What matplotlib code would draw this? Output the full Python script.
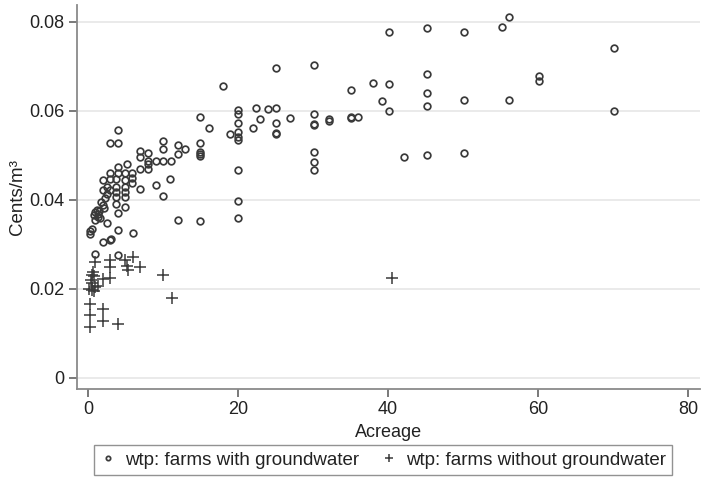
import matplotlib
matplotlib.use('Agg')
import matplotlib.pyplot as plt

plt.rcParams['font.family'] = ['Liberation Sans', 'DejaVu Sans']

# farms with groundwater (acreage, cents/m3)
gw_acre = [18.0, 25.1, 30.1, 35.1, 40.1, 45.2, 50.1, 55.2, 56.1, 70.2,
           38.0, 40.1, 45.2, 60.1, 60.1, 39.2, 45.2, 40.1, 45.2, 50.1,
           56.1, 70.2, 36.0, 42.1, 45.2, 50.1,
           35.1, 35.1, 32.1, 32.1,
           30.1, 30.1, 30.1, 30.1, 30.1, 30.1, 27.0,
           25.1, 25.1, 25.1, 25.1, 24.0, 23.0, 22.4, 22.0, 18.9,
           20.0, 20.0, 20.0, 20.0, 20.0, 20.0, 20.0, 20.0, 20.0,
           15.0, 16.1, 15.0, 15.0, 15.0, 15.0, 13.0, 12.0, 12.0, 15.0, 12.0,
           4.0, 2.9, 4.0, 10.0, 10.0, 7.0, 8.0, 7.0, 8.0, 9.1, 10.0, 11.1,
           5.2, 6.9, 8.0, 8.0, 11.0, 9.1, 7.0, 10.0, 4.0, 2.9, 4.0, 5.0,
           5.9, 5.9, 5.9, 2.0, 2.0, 3.0, 3.8, 3.8, 3.8, 3.8, 4.9, 4.9, 4.9,
           4.9, 2.5, 2.5, 2.3, 3.0, 5.0, 4.0, 2.0, 3.8, 2.5, 1.2, 1.0, 1.3,
           0.8, 1.5, 0.3, 0.6, 0.3, 4.0, 6.0, 2.0, 2.9, 3.1, 0.9, 4.0,
           1.8, 2.2, 1.6, 0.9, 1.4]
gw_wtp = [0.0655, 0.0696, 0.0703, 0.0646, 0.0776, 0.0786, 0.0777, 0.0788, 0.0811, 0.0741,
          0.0663, 0.0661, 0.0682, 0.0677, 0.0666, 0.0622, 0.0639, 0.0600, 0.0611, 0.0623,
          0.0624, 0.0600, 0.0587, 0.0497, 0.0500, 0.0505,
          0.0587, 0.0584, 0.0581, 0.0578,
          0.0592, 0.0570, 0.0568, 0.0507, 0.0485, 0.0467, 0.0583,
          0.0607, 0.0573, 0.0551, 0.0548, 0.0603, 0.0582, 0.0607, 0.0562, 0.0548,
          0.0602, 0.0593, 0.0573, 0.0553, 0.0540, 0.0534, 0.0467, 0.0398, 0.0358,
          0.0585, 0.0562, 0.0528, 0.0508, 0.0503, 0.0499, 0.0515, 0.0522, 0.0502, 0.0353, 0.0355,
          0.0557, 0.0528, 0.0528, 0.0533, 0.0513, 0.0510, 0.0504, 0.0497, 0.0488, 0.0488, 0.0488, 0.0488,
          0.0480, 0.0469, 0.0469, 0.0480, 0.0446, 0.0433, 0.0425, 0.0408, 0.0474, 0.0459, 0.0459, 0.0459,
          0.0459, 0.0448, 0.0437, 0.0444, 0.0422, 0.0446, 0.0446, 0.0429, 0.0418, 0.0406, 0.0444, 0.0429, 0.0418,
          0.0406, 0.0429, 0.0414, 0.0403, 0.0422, 0.0384, 0.0370, 0.0389, 0.0391, 0.0348, 0.0378, 0.0372, 0.0368,
          0.0365, 0.0375, 0.0330, 0.0335, 0.0322, 0.0333, 0.0326, 0.0305, 0.0310, 0.0312, 0.0279, 0.0275,
          0.0395, 0.0382, 0.0360, 0.0355, 0.0362]

# farms without groundwater
nogw_acre = [0.9, 2.9, 4.9, 6.0, 3.0, 5.2, 5.4, 7.0, 0.7, 0.5, 0.8, 2.0, 3.0,
             0.4, 0.5, 10.0, 0.1, 0.6, 1.0, 0.8, 1.3, 11.2, 0.3, 2.0, 0.3,
             2.0, 4.0, 0.3, 40.6]
nogw_wtp = [0.0261, 0.0264, 0.0265, 0.0271, 0.0250, 0.0252, 0.0243, 0.0249, 0.0237,
            0.0232, 0.0228, 0.0221, 0.0225, 0.0219, 0.0212, 0.0231, 0.0200, 0.0198,
            0.0203, 0.0195, 0.0206, 0.0180, 0.0166, 0.0155, 0.0140, 0.0127, 0.0122,
            0.0115, 0.0225]

xticks = [0, 20, 40, 60, 80]
yticks = [0, 0.02, 0.04, 0.06, 0.08]
ytick_labels = ['0', '0.02', '0.04', '0.06', '0.08']

fig = plt.figure(figsize=(7.03, 4.79), dpi=100)
ax = fig.add_axes([0.1095, 0.188, 0.886, 0.802])

mk = '#3a3a3a'
ax.plot(gw_acre, gw_wtp, 'o', ms=4.8, mfc='none', mec=mk, mew=1.25,
        label='wtp: farms with groundwater', zorder=3)
ax.plot(nogw_acre, nogw_wtp, '+', ms=9, mec=mk, mew=1.1,
        label='wtp: farms without groundwater', zorder=3)

ax.set_xlim(-1.47, 81.6)
ax.set_ylim(-0.0025, 0.0838)
ax.set_xticks(xticks)
ax.set_yticks(yticks)
ax.set_yticklabels(ytick_labels)

ax.grid(axis='y', color='#e6e6e6', lw=1.2)
ax.set_axisbelow(True)
for s in ['top', 'right']:
    ax.spines[s].set_visible(False)
for s in ['left', 'bottom']:
    ax.spines[s].set_color('#8a8a8a')
    ax.spines[s].set_linewidth(1.3)
ax.tick_params(direction='out', length=6, width=1.1, color='#555555',
               labelsize=13, labelcolor='#222222', pad=3)

ax.set_xlabel('Acreage', fontsize=13, color='#222222', labelpad=4)
ax.set_ylabel('Cents/m³', fontsize=13.5, color='#222222', labelpad=2)

leg = fig.legend(loc='lower center', bbox_to_anchor=(0.545, -0.012), ncol=2,
                 fontsize=13.5, frameon=True, fancybox=False, markerscale=0.65,
                 handlelength=0.8, handletextpad=0.5, columnspacing=1.2,
                 borderpad=0.35)
leg.get_frame().set_edgecolor('#777777')
leg.get_frame().set_linewidth(1.0)
for t in leg.get_texts():
    t.set_color('#222222')

fig.savefig('out.png', dpi=100)
